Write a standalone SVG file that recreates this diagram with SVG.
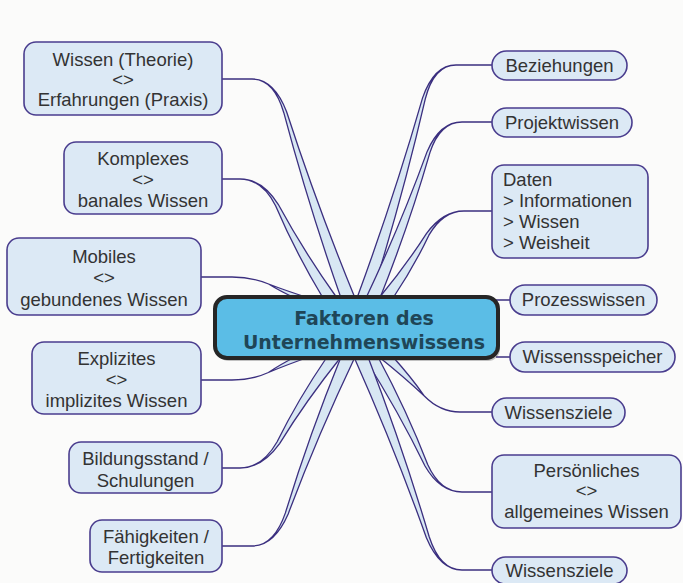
<svg xmlns="http://www.w3.org/2000/svg" width="683" height="583" viewBox="0 0 683 583">
<defs>
<style>
.br{fill:#d8e7f3;stroke:#3b2f7f;stroke-width:1.3;stroke-linejoin:round}
.ln{fill:none;stroke:#3b2f7f;stroke-width:1.5}
.nd{fill:#dce9f5;stroke:#4a3d8e;stroke-width:1.6}
.tx{font-family:"Liberation Sans",Arial,sans-serif;font-size:18.5px;fill:#333333}
.c{text-anchor:middle}
.ct{font-family:"DejaVu Sans",Verdana,sans-serif;font-weight:bold;font-size:19px;fill:#1f4657;text-anchor:middle}
</style>
</defs>
<rect x="0" y="0" width="683" height="583" fill="#fbfbfa"/>
<g id="connectors">
<path class="br" d="M341,298 Q308.4,205.4 283.8,112.7 Q274,79 252,79 L222,79 L252,79 Q274,79 286.6,111.7 Q316.8,204.9 355,298 Z"/>
<path class="br" d="M323,298 Q295.3,251.9 275.6,205.7 Q262,179 240,179 L222,179 L240,179 Q262,179 278.2,204.3 Q303.6,251.2 337,298 Z"/>
<path class="br" d="M295,298 Q279.8,291 268.6,284 Q252,277 232,277 L201,277 L232,277 Q252,277 268.6,284 Q286.8,291 309,298 Z"/>
<path class="br" d="M295,357 Q279.7,364.8 268.4,372.5 Q252,380 232,380 L201,380 L232,380 Q252,380 268.4,372.5 Q286.7,364.8 309,357 Z"/>
<path class="br" d="M327,357 Q298,399.5 277,442 Q262,468 240,468 L222,468 L240,468 Q262,468 279.6,443.6 Q306.3,400.3 341,357 Z"/>
<path class="br" d="M341,357 Q309.2,435 285.4,512.9 Q274,546 252,546 L222,546 L252,546 Q274,546 288.2,513.9 Q317.6,435.5 355,357 Z"/>
<path class="br" d="M357,298 Q393.8,198 422.5,98.1 Q434,65 456,65 L492,65 L456,65 Q434,65 425.3,98.9 Q402.2,198.5 371,298 Z"/>
<path class="br" d="M366,298 Q400.6,224.7 427.2,151.4 Q440,122 462,122 L492,122 L462,122 Q440,122 430,152.4 Q409,225.2 380,298 Z"/>
<path class="br" d="M379,298 Q405.7,265.8 426.4,233.6 Q443,211 464,211 L492,211 L464,211 Q443,211 428.9,235.2 Q414,266.6 393,298 Z"/>
<path class="ln" d="M496,300 L510,300"/>
<path class="ln" d="M496,357 L510,357"/>
<path class="br" d="M379,357 Q403.8,376.7 424.6,396.3 Q440,412 460,412 L492,412 L460,412 Q440,412 424.6,396.3 Q410.8,376.7 393,357 Z"/>
<path class="br" d="M364,357 Q398.5,411.5 425,466 Q440,492 462,492 L492,492 L462,492 Q440,492 427.7,464.6 Q406.9,410.8 378,357 Z"/>
<path class="br" d="M354,357 Q394.2,447.4 426.4,537.7 Q440,570 462,570 L492,570 L462,570 Q440,570 429.2,536.7 Q402.6,446.9 368,357 Z"/>
</g>
<g id="center">
<rect x="217" y="300" width="283" height="61" rx="12" fill="#555" opacity="0.35"/>
<rect x="215" y="297" width="283" height="61" rx="12" fill="#5bbde6" stroke="#262626" stroke-width="4"/>
<text class="ct" x="364" y="325">Faktoren des</text>
<text class="ct" x="364" y="349">Unternehmenswissens</text>
</g>
<g id="n-theorie">
<rect class="nd" x="24" y="42" width="198" height="73" rx="12"/>
<text class="tx c" x="123" y="66">Wissen (Theorie)</text>
<text class="tx c" x="123" y="86">&lt;&gt;</text>
<text class="tx c" x="123" y="106">Erfahrungen (Praxis)</text>
</g>
<g id="n-komplexes">
<rect class="nd" x="64" y="142" width="158" height="72" rx="12"/>
<text class="tx c" x="143" y="165">Komplexes</text>
<text class="tx c" x="143" y="186">&lt;&gt;</text>
<text class="tx c" x="143" y="207">banales Wissen</text>
</g>
<g id="n-mobiles">
<rect class="nd" x="7" y="238" width="194" height="77" rx="12"/>
<text class="tx c" x="104" y="263">Mobiles</text>
<text class="tx c" x="104" y="284">&lt;&gt;</text>
<text class="tx c" x="104" y="306">gebundenes Wissen</text>
</g>
<g id="n-explizites">
<rect class="nd" x="32" y="342" width="169" height="72" rx="12"/>
<text class="tx c" x="116.5" y="365">Explizites</text>
<text class="tx c" x="116.5" y="386">&lt;&gt;</text>
<text class="tx c" x="116.5" y="407">implizites Wissen</text>
</g>
<g id="n-bildung">
<rect class="nd" x="69" y="442" width="153" height="51" rx="12"/>
<text class="tx c" x="145.5" y="465">Bildungsstand /</text>
<text class="tx c" x="145.5" y="487">Schulungen</text>
</g>
<g id="n-faehig">
<rect class="nd" x="90" y="520" width="132" height="52" rx="12"/>
<text class="tx c" x="156" y="543">Fähigkeiten /</text>
<text class="tx c" x="156" y="564">Fertigkeiten</text>
</g>
<g id="n-beziehungen">
<rect class="nd" x="492" y="51" width="135" height="29" rx="14.5"/>
<text class="tx c" x="559.5" y="72">Beziehungen</text>
</g>
<g id="n-projekt">
<rect class="nd" x="492" y="108" width="140" height="29" rx="14.5"/>
<text class="tx c" x="562" y="129">Projektwissen</text>
</g>
<g id="n-daten">
<rect class="nd" x="492" y="165" width="156" height="93" rx="12"/>
<text class="tx" x="503" y="186">Daten</text>
<text class="tx" x="503" y="207">&gt; Informationen</text>
<text class="tx" x="503" y="228">&gt; Wissen</text>
<text class="tx" x="503" y="249">&gt; Weisheit</text>
</g>
<g id="n-prozess">
<rect class="nd" x="510" y="285" width="147" height="30" rx="15"/>
<text class="tx c" x="583.5" y="306">Prozesswissen</text>
</g>
<g id="n-speicher">
<rect class="nd" x="510" y="342" width="165" height="30" rx="15"/>
<text class="tx c" x="592.5" y="363">Wissensspeicher</text>
</g>
<g id="n-ziele1">
<rect class="nd" x="492" y="398" width="133" height="29" rx="14.5"/>
<text class="tx c" x="558.5" y="419">Wissensziele</text>
</g>
<g id="n-persoenlich">
<rect class="nd" x="492" y="455" width="189" height="73" rx="12"/>
<text class="tx c" x="586.5" y="477">Persönliches</text>
<text class="tx c" x="586.5" y="497">&lt;&gt;</text>
<text class="tx c" x="586.5" y="518">allgemeines Wissen</text>
</g>
<g id="n-ziele2">
<rect class="nd" x="492" y="557" width="135" height="27" rx="13.5"/>
<text class="tx c" x="559.5" y="577">Wissensziele</text>
</g>
</svg>
